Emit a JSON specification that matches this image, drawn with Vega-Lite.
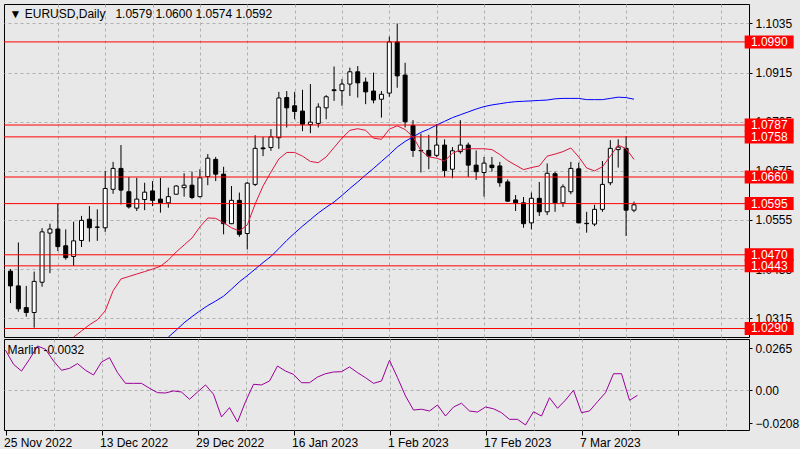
{
  "$schema": "https://vega.github.io/schema/vega-lite/v6.json",
  "background": "#e8e8e8",
  "padding": {"left": 3, "top": 3, "right": 0, "bottom": 0},
  "spacing": 0,
  "config": {
    "view": {"stroke": "#000000", "strokeWidth": 1},
    "font": "Liberation Sans",
    "axis": {"labelFont": "Liberation Sans", "labelFontSize": 12, "labelColor": "#000000", "tickColor": "#000000", "gridColor": "#b0b0b0", "gridDash": [3, 3], "gridWidth": 1, "title": null, "domain": false}
  },
  "datasets": {
    "candles": [
      {"i":0,"d":"2022-11-25","o":1.0430,"h":1.0435,"l":1.0352,"c":1.0394,"ma1":null,"ma2":null,"m":0.0254},
      {"i":1,"d":"2022-11-28","o":1.0394,"h":1.0500,"l":1.0331,"c":1.0338,"ma1":null,"ma2":null,"m":0.0165},
      {"i":2,"d":"2022-11-29","o":1.0341,"h":1.0394,"l":1.0319,"c":1.0329,"ma1":null,"ma2":null,"m":0.0122},
      {"i":3,"d":"2022-11-30","o":1.0329,"h":1.0429,"l":1.0292,"c":1.0405,"ma1":null,"ma2":null,"m":0.0197},
      {"i":4,"d":"2022-12-01","o":1.0403,"h":1.0535,"l":1.0392,"c":1.0526,"ma1":null,"ma2":null,"m":0.0281},
      {"i":5,"d":"2022-12-02","o":1.0523,"h":1.0546,"l":1.0425,"c":1.0533,"ma1":null,"ma2":null,"m":0.0260},
      {"i":6,"d":"2022-12-05","o":1.0533,"h":1.0595,"l":1.0479,"c":1.0490,"ma1":null,"ma2":null,"m":0.0186},
      {"i":7,"d":"2022-12-06","o":1.0492,"h":1.0532,"l":1.0458,"c":1.0463,"ma1":null,"ma2":null,"m":0.0127},
      {"i":8,"d":"2022-12-07","o":1.0466,"h":1.0551,"l":1.0443,"c":1.0504,"ma1":1.0269,"ma2":null,"m":0.0139},
      {"i":9,"d":"2022-12-08","o":1.0505,"h":1.0565,"l":1.0489,"c":1.0554,"ma1":1.0284,"ma2":null,"m":0.0169},
      {"i":10,"d":"2022-12-09","o":1.0557,"h":1.0589,"l":1.0502,"c":1.0536,"ma1":1.0299,"ma2":null,"m":0.0127},
      {"i":11,"d":"2022-12-12","o":1.0537,"h":1.0581,"l":1.0504,"c":1.0538,"ma1":1.0311,"ma2":null,"m":0.0097},
      {"i":12,"d":"2022-12-13","o":1.0536,"h":1.0675,"l":1.0526,"c":1.0632,"ma1":1.0333,"ma2":null,"m":0.0179},
      {"i":13,"d":"2022-12-14","o":1.0630,"h":1.0697,"l":1.0619,"c":1.0681,"ma1":1.0382,"ma2":null,"m":0.0207},
      {"i":14,"d":"2022-12-15","o":1.0681,"h":1.0738,"l":1.0593,"c":1.0628,"ma1":1.0411,"ma2":null,"m":0.0112},
      {"i":15,"d":"2022-12-16","o":1.0624,"h":1.0660,"l":1.0583,"c":1.0587,"ma1":1.0417,"ma2":null,"m":0.0044},
      {"i":16,"d":"2022-12-19","o":1.0584,"h":1.0658,"l":1.0577,"c":1.0606,"ma1":1.0423,"ma2":null,"m":0.0044},
      {"i":17,"d":"2022-12-20","o":1.0605,"h":1.0646,"l":1.0579,"c":1.0623,"ma1":1.0429,"ma2":null,"m":0.0044},
      {"i":18,"d":"2022-12-21","o":1.0626,"h":1.0650,"l":1.0589,"c":1.0603,"ma1":1.0435,"ma2":null,"m":0.0013},
      {"i":19,"d":"2022-12-22","o":1.0606,"h":1.0658,"l":1.0573,"c":1.0597,"ma1":1.0442,"ma2":null,"m":-0.0015},
      {"i":20,"d":"2022-12-23","o":1.0597,"h":1.0634,"l":1.0585,"c":1.0612,"ma1":1.0457,"ma2":1.0269,"m":-0.0017},
      {"i":21,"d":"2022-12-26","o":1.0618,"h":1.0640,"l":1.0617,"c":1.0638,"ma1":1.0477,"ma2":1.0286,"m":-0.0004},
      {"i":22,"d":"2022-12-27","o":1.0634,"h":1.0669,"l":1.0612,"c":1.0640,"ma1":1.0494,"ma2":1.0304,"m":-0.0011},
      {"i":23,"d":"2022-12-28","o":1.0640,"h":1.0673,"l":1.0606,"c":1.0610,"ma1":1.0511,"ma2":1.0319,"m":-0.0057},
      {"i":24,"d":"2022-12-29","o":1.0612,"h":1.0679,"l":1.0610,"c":1.0658,"ma1":1.0538,"ma2":1.0333,"m":-0.0011},
      {"i":25,"d":"2022-12-30","o":1.0661,"h":1.0716,"l":1.0640,"c":1.0706,"ma1":1.0560,"ma2":1.0346,"m":0.0034},
      {"i":26,"d":"2023-01-02","o":1.0703,"h":1.0709,"l":1.0650,"c":1.0667,"ma1":1.0559,"ma2":1.0357,"m":-0.0025},
      {"i":27,"d":"2023-01-03","o":1.0667,"h":1.0685,"l":1.0520,"c":1.0546,"ma1":1.0548,"ma2":1.0369,"m":-0.0169},
      {"i":28,"d":"2023-01-04","o":1.0546,"h":1.0638,"l":1.0545,"c":1.0603,"ma1":1.0536,"ma2":1.0386,"m":-0.0110},
      {"i":29,"d":"2023-01-05","o":1.0603,"h":1.0622,"l":1.0514,"c":1.0520,"ma1":1.0528,"ma2":1.0404,"m":-0.0201},
      {"i":30,"d":"2023-01-06","o":1.0522,"h":1.0648,"l":1.0483,"c":1.0645,"ma1":1.0543,"ma2":1.0419,"m":-0.0072},
      {"i":31,"d":"2023-01-09","o":1.0642,"h":1.0762,"l":1.0638,"c":1.0730,"ma1":1.0594,"ma2":1.0435,"m":0.0038},
      {"i":32,"d":"2023-01-10","o":1.0731,"h":1.0758,"l":1.0711,"c":1.0729,"ma1":1.0638,"ma2":1.0451,"m":0.0034},
      {"i":33,"d":"2023-01-11","o":1.0732,"h":1.0777,"l":1.0724,"c":1.0758,"ma1":1.0672,"ma2":1.0466,"m":0.0059},
      {"i":34,"d":"2023-01-12","o":1.0756,"h":1.0868,"l":1.0729,"c":1.0853,"ma1":1.0704,"ma2":1.0485,"m":0.0154},
      {"i":35,"d":"2023-01-13","o":1.0854,"h":1.0870,"l":1.0781,"c":1.0829,"ma1":1.0720,"ma2":1.0505,"m":0.0122},
      {"i":36,"d":"2023-01-16","o":1.0834,"h":1.0868,"l":1.0801,"c":1.0820,"ma1":1.0720,"ma2":1.0523,"m":0.0101},
      {"i":37,"d":"2023-01-17","o":1.0821,"h":1.0873,"l":1.0772,"c":1.0789,"ma1":1.0711,"ma2":1.0540,"m":0.0048},
      {"i":38,"d":"2023-01-18","o":1.0788,"h":1.0887,"l":1.0767,"c":1.0794,"ma1":1.0698,"ma2":1.0556,"m":0.0048},
      {"i":39,"d":"2023-01-19","o":1.0791,"h":1.0840,"l":1.0781,"c":1.0831,"ma1":1.0695,"ma2":1.0572,"m":0.0084},
      {"i":40,"d":"2023-01-20","o":1.0829,"h":1.0860,"l":1.0801,"c":1.0856,"ma1":1.0709,"ma2":1.0586,"m":0.0105},
      {"i":41,"d":"2023-01-23","o":1.0873,"h":1.0930,"l":1.0846,"c":1.0871,"ma1":1.0732,"ma2":1.0599,"m":0.0116},
      {"i":42,"d":"2023-01-24","o":1.0871,"h":1.0899,"l":1.0834,"c":1.0887,"ma1":1.0755,"ma2":1.0615,"m":0.0118},
      {"i":43,"d":"2023-01-25","o":1.0887,"h":1.0927,"l":1.0858,"c":1.0917,"ma1":1.0774,"ma2":1.0632,"m":0.0148},
      {"i":44,"d":"2023-01-26","o":1.0917,"h":1.0931,"l":1.0854,"c":1.0890,"ma1":1.0778,"ma2":1.0648,"m":0.0112},
      {"i":45,"d":"2023-01-27","o":1.0892,"h":1.0903,"l":1.0838,"c":1.0868,"ma1":1.0774,"ma2":1.0665,"m":0.0080},
      {"i":46,"d":"2023-01-30","o":1.0870,"h":1.0915,"l":1.0840,"c":1.0848,"ma1":1.0755,"ma2":1.0681,"m":0.0044},
      {"i":47,"d":"2023-01-31","o":1.0850,"h":1.0870,"l":1.0805,"c":1.0862,"ma1":1.0752,"ma2":1.0698,"m":0.0059},
      {"i":48,"d":"2023-02-01","o":1.0865,"h":1.1003,"l":1.0856,"c":1.0990,"ma1":1.0777,"ma2":1.0715,"m":0.0190},
      {"i":49,"d":"2023-02-02","o":1.0990,"h":1.1035,"l":1.0878,"c":1.0907,"ma1":1.0785,"ma2":1.0733,"m":0.0080},
      {"i":50,"d":"2023-02-03","o":1.0909,"h":1.0939,"l":1.0781,"c":1.0795,"ma1":1.0776,"ma2":1.0747,"m":-0.0036},
      {"i":51,"d":"2023-02-06","o":1.0786,"h":1.0799,"l":1.0709,"c":1.0725,"ma1":1.0758,"ma2":1.0758,"m":-0.0125},
      {"i":52,"d":"2023-02-07","o":1.0725,"h":1.0766,"l":1.0671,"c":1.0724,"ma1":1.0725,"ma2":1.0769,"m":-0.0120},
      {"i":53,"d":"2023-02-08","o":1.0725,"h":1.0763,"l":1.0679,"c":1.0711,"ma1":1.0709,"ma2":1.0777,"m":-0.0131},
      {"i":54,"d":"2023-02-09","o":1.0713,"h":1.0789,"l":1.0709,"c":1.0738,"ma1":1.0706,"ma2":1.0787,"m":-0.0093},
      {"i":55,"d":"2023-02-10","o":1.0738,"h":1.0752,"l":1.0660,"c":1.0676,"ma1":1.0699,"ma2":1.0796,"m":-0.0163},
      {"i":56,"d":"2023-02-13","o":1.0679,"h":1.0733,"l":1.0657,"c":1.0724,"ma1":1.0718,"ma2":1.0805,"m":-0.0106},
      {"i":57,"d":"2023-02-14","o":1.0722,"h":1.0799,"l":1.0717,"c":1.0738,"ma1":1.0726,"ma2":1.0812,"m":-0.0082},
      {"i":58,"d":"2023-02-15","o":1.0738,"h":1.0744,"l":1.0660,"c":1.0689,"ma1":1.0729,"ma2":1.0819,"m":-0.0131},
      {"i":59,"d":"2023-02-16","o":1.0689,"h":1.0725,"l":1.0653,"c":1.0673,"ma1":1.0729,"ma2":1.0826,"m":-0.0138},
      {"i":60,"d":"2023-02-17","o":1.0671,"h":1.0709,"l":1.0612,"c":1.0694,"ma1":1.0729,"ma2":1.0832,"m":-0.0106},
      {"i":61,"d":"2023-02-20","o":1.0689,"h":1.0709,"l":1.0673,"c":1.0683,"ma1":1.0727,"ma2":1.0836,"m":-0.0117},
      {"i":62,"d":"2023-02-21","o":1.0687,"h":1.0697,"l":1.0636,"c":1.0646,"ma1":1.0715,"ma2":1.0839,"m":-0.0142},
      {"i":63,"d":"2023-02-22","o":1.0648,"h":1.0654,"l":1.0599,"c":1.0601,"ma1":1.0700,"ma2":1.0842,"m":-0.0184},
      {"i":64,"d":"2023-02-23","o":1.0604,"h":1.0616,"l":1.0577,"c":1.0597,"ma1":1.0689,"ma2":1.0844,"m":-0.0184},
      {"i":65,"d":"2023-02-24","o":1.0597,"h":1.0611,"l":1.0536,"c":1.0546,"ma1":1.0678,"ma2":1.0845,"m":-0.0220},
      {"i":66,"d":"2023-02-27","o":1.0548,"h":1.0622,"l":1.0532,"c":1.0608,"ma1":1.0683,"ma2":1.0846,"m":-0.0136},
      {"i":67,"d":"2023-02-28","o":1.0608,"h":1.0648,"l":1.0565,"c":1.0575,"ma1":1.0687,"ma2":1.0847,"m":-0.0163},
      {"i":68,"d":"2023-03-01","o":1.0575,"h":1.0693,"l":1.0567,"c":1.0669,"ma1":1.0711,"ma2":1.0848,"m":-0.0047},
      {"i":69,"d":"2023-03-02","o":1.0668,"h":1.0673,"l":1.0575,"c":1.0597,"ma1":1.0716,"ma2":1.0851,"m":-0.0114},
      {"i":70,"d":"2023-03-03","o":1.0597,"h":1.0642,"l":1.0587,"c":1.0636,"ma1":1.0722,"ma2":1.0852,"m":-0.0062},
      {"i":71,"d":"2023-03-06","o":1.0624,"h":1.0697,"l":1.0618,"c":1.0681,"ma1":1.0731,"ma2":1.0852,"m":0.0000},
      {"i":72,"d":"2023-03-07","o":1.0680,"h":1.0695,"l":1.0547,"c":1.0548,"ma1":1.0709,"ma2":1.0852,"m":-0.0142},
      {"i":73,"d":"2023-03-08","o":1.0547,"h":1.0575,"l":1.0524,"c":1.0546,"ma1":1.0682,"ma2":1.0849,"m":-0.0131},
      {"i":74,"d":"2023-03-09","o":1.0545,"h":1.0592,"l":1.0540,"c":1.0581,"ma1":1.0675,"ma2":1.0849,"m":-0.0072},
      {"i":75,"d":"2023-03-10","o":1.0581,"h":1.0699,"l":1.0575,"c":1.0642,"ma1":1.0685,"ma2":1.0849,"m":-0.0015},
      {"i":76,"d":"2023-03-13","o":1.0646,"h":1.0750,"l":1.0640,"c":1.0730,"ma1":1.0711,"ma2":1.0852,"m":0.0105},
      {"i":77,"d":"2023-03-14","o":1.0727,"h":1.0752,"l":1.0683,"c":1.0733,"ma1":1.0738,"ma2":1.0855,"m":0.0105},
      {"i":78,"d":"2023-03-15","o":1.0730,"h":1.0760,"l":1.0516,"c":1.0579,"ma1":1.0729,"ma2":1.0854,"m":-0.0063},
      {"i":79,"d":"2023-03-16","o":1.0579,"h":1.0600,"l":1.0574,"c":1.0592,"ma1":1.0703,"ma2":1.0850,"m":-0.0032}
    ],
    "levels": [
      {"level":1.0990},{"level":1.0787},{"level":1.0758},{"level":1.0660},
      {"level":1.0595},{"level":1.0470},{"level":1.0443},{"level":1.0290}
    ]
  },
  "vconcat": [
    {
      "width": 745,
      "height": 333,
      "title": {"text": "▼ EURUSD,Daily\u00a0\u00a0\u00a01.0579 1.0600 1.0574 1.0592", "anchor": "start", "orient": "top", "offset": -22, "baseline": "middle", "dx": 6, "fontSize": 12, "fontWeight": "normal", "font": "Liberation Sans", "color": "#000000"},
      "layer": [
        {
          "data": {"name": "candles"},
          "mark": {"type": "rule", "color": "#000000", "strokeWidth": 1},
          "encoding": {
            "x": {"field": "i", "type": "quantitative", "scale": {"domain": [-0.1875, 92.9375], "nice": false, "zero": false},
              "axis": {"orient": "bottom", "values": [6,12,18,24,30,36,42,48,54,60,66,72,78,84,90], "labels": false, "ticks": false, "domain": false, "grid": true, "minExtent": 0, "maxExtent": 0}},
            "y": {"field": "l", "type": "quantitative", "scale": {"domain": [1.02692, 1.10826], "nice": false, "zero": false},
              "axis": {"orient": "right", "values": [1.1035, 1.0915, 1.0795, 1.0675, 1.0555, 1.0435, 1.0315], "format": ".4f", "grid": true, "tickSize": 3, "labelPadding": 3, "labelOverlap": false}},
            "y2": {"field": "h"}
          }
        },
        {
          "data": {"name": "candles"},
          "mark": {"type": "bar", "size": 4, "stroke": "#000000", "strokeWidth": 1},
          "encoding": {
            "x": {"field": "i", "type": "quantitative"},
            "y": {"field": "o", "type": "quantitative"},
            "y2": {"field": "c"},
            "fill": {"condition": {"test": "datum.c > datum.o", "value": "#ffffff"}, "value": "#000000"}
          }
        },
        {
          "data": {"name": "candles"},
          "mark": {"type": "line", "color": "#e0143c", "strokeWidth": 1, "clip": true},
          "encoding": {
            "x": {"field": "i", "type": "quantitative"},
            "y": {"field": "ma1", "type": "quantitative"}
          }
        },
        {
          "data": {"name": "candles"},
          "mark": {"type": "line", "color": "#0000ff", "strokeWidth": 1, "clip": true},
          "encoding": {
            "x": {"field": "i", "type": "quantitative"},
            "y": {"field": "ma2", "type": "quantitative"}
          }
        },
        {
          "data": {"name": "levels"},
          "mark": {"type": "rule", "color": "#ff0000", "strokeWidth": 1},
          "encoding": {"y": {"field": "level", "type": "quantitative"}}
        },
        {
          "data": {"name": "levels"},
          "mark": {"type": "tick", "orient": "horizontal", "color": "#ff0000", "size": 49, "thickness": 13, "opacity": 1, "clip": false},
          "encoding": {
            "x": {"datum": 96.125, "type": "quantitative"},
            "y": {"field": "level", "type": "quantitative"}
          }
        },
        {
          "data": {"name": "levels"},
          "mark": {"type": "text", "align": "left", "baseline": "middle", "color": "#ffffff", "fontSize": 12, "font": "Liberation Sans", "clip": false},
          "encoding": {
            "x": {"datum": 93.81, "type": "quantitative"},
            "y": {"field": "level", "type": "quantitative"},
            "text": {"field": "level", "type": "quantitative", "format": ".4f"}
          }
        }
      ]
    },
    {
      "width": 745,
      "height": 91,
      "title": {"text": "Marlin -0.0032", "anchor": "start", "orient": "top", "offset": -23, "baseline": "middle", "dx": 4, "fontSize": 12, "fontWeight": "normal", "font": "Liberation Sans", "color": "#000000"},
      "data": {"name": "candles"},
      "mark": {"type": "line", "color": "#990099", "strokeWidth": 1},
      "encoding": {
        "x": {"field": "i", "type": "quantitative", "scale": {"domain": [-0.1875, 92.9375], "nice": false, "zero": false},
          "axis": {"orient": "bottom", "values": [0,6,12,18,24,30,36,42,48,54,60,66,72,78,84,90],
            "labelExpr": "datum.value == 0 ? '25 Nov 2022' : datum.value == 12 ? '13 Dec 2022' : datum.value == 24 ? '29 Dec 2022' : datum.value == 36 ? '16 Jan 2023' : datum.value == 48 ? '1 Feb 2023' : datum.value == 60 ? '17 Feb 2023' : datum.value == 72 ? '7 Mar 2023' : ''",
            "gridOpacity": {"condition": {"test": "datum.value == 0", "value": 0}, "value": 1},
            "tickOpacity": {"condition": {"test": "datum.value % 12 == 0", "value": 1}, "value": 0},
            "grid": true, "tickSize": 5, "labelAlign": "left", "labelPadding": 2, "labelOffset": -2, "labelFlush": false, "labelOverlap": false, "labelBound": false}},
        "y": {"field": "m", "type": "quantitative", "scale": {"domain": [-0.02516, 0.03251], "nice": false, "zero": false},
          "axis": {"orient": "right", "values": [0.0265, 0, -0.0208], "labelExpr": "datum.value == 0 ? '0.00' : format(datum.value, '.4f')", "tickSize": 3, "labelPadding": 3, "grid": true, "labelOverlap": false,
            "gridOpacity": {"condition": {"test": "datum.value == 0", "value": 1}, "value": 0}}}
      }
    }
  ]
}
